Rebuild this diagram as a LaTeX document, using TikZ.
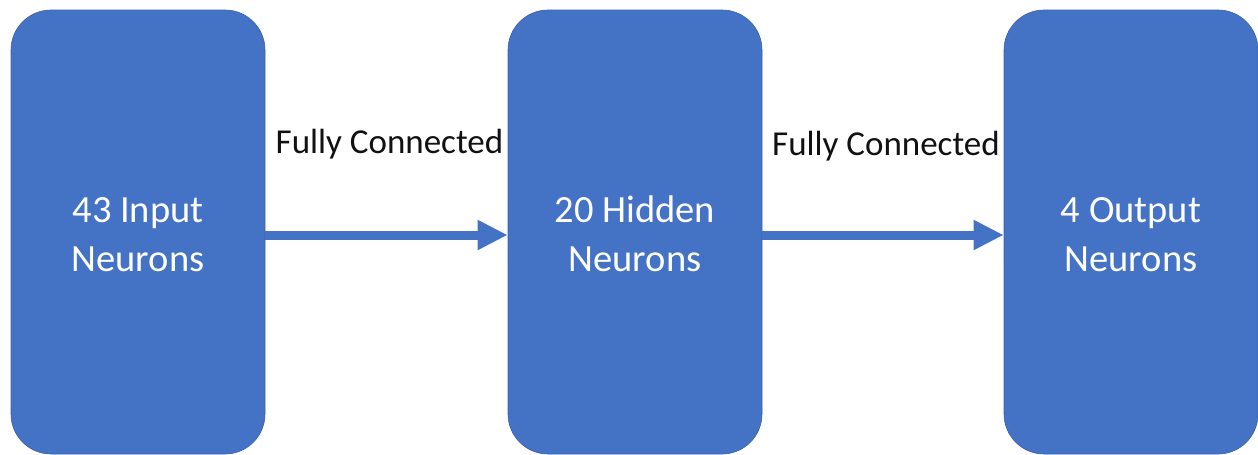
\documentclass[tikz,border=0pt]{standalone}
\usepackage{fontspec}
\setmainfont{Carlito}
\usetikzlibrary{arrows.meta, positioning}
\definecolor{layerblue}{HTML}{4472C4}
\definecolor{layeredge}{HTML}{3A62AE}
\definecolor{textdark}{HTML}{111111}
% extra room above the first line of a layer caption
\newcommand{\captop}{\rule{0pt}{31pt}}

\begin{document}
\begin{tikzpicture}[
    x=1pt, y=-1pt,
    % ── Node styles ──────────────────────────────────────────────────────
    layer/.style={
        draw=layeredge, fill=layerblue, line width=0.6pt,
        rounded corners=40pt, minimum width=254pt, minimum height=444pt,
        font=\fontsize{38.5}{49}\selectfont, text=white,
        align=center, inner sep=0pt
    },
    fclabel/.style={
        font=\fontsize{35}{42}\selectfont, text=textdark,
        inner sep=0pt, anchor=base
    },
    % ── Arrow style ──────────────────────────────────────────────────────
    arr/.style={
        -{Triangle[length=30pt, width=28pt]},
        line width=9pt, color=layerblue
    }
]
\useasboundingbox (0,0) rectangle (1258,455);

% Three layers of the network
\node[layer] (input)  at (138,232)  {\captop 43 Input\\Neurons};
\node[layer] (hidden) at (635,232)  {\captop 20 Hidden\\Neurons};
\node[layer] (output) at (1131,232) {\captop 4 Output\\Neurons};

% Connections between layers
\draw[arr] ([yshift=-3pt]input.east) -- ([yshift=-3pt]hidden.west)
    node[fclabel, midway, xshift=3pt, yshift=82pt] {Fully Connected};
\draw[arr] ([yshift=-3pt]hidden.east) -- ([yshift=-3pt]output.west)
    node[fclabel, midway, xshift=3pt, yshift=80pt] {Fully Connected};

\end{tikzpicture}
\end{document}
